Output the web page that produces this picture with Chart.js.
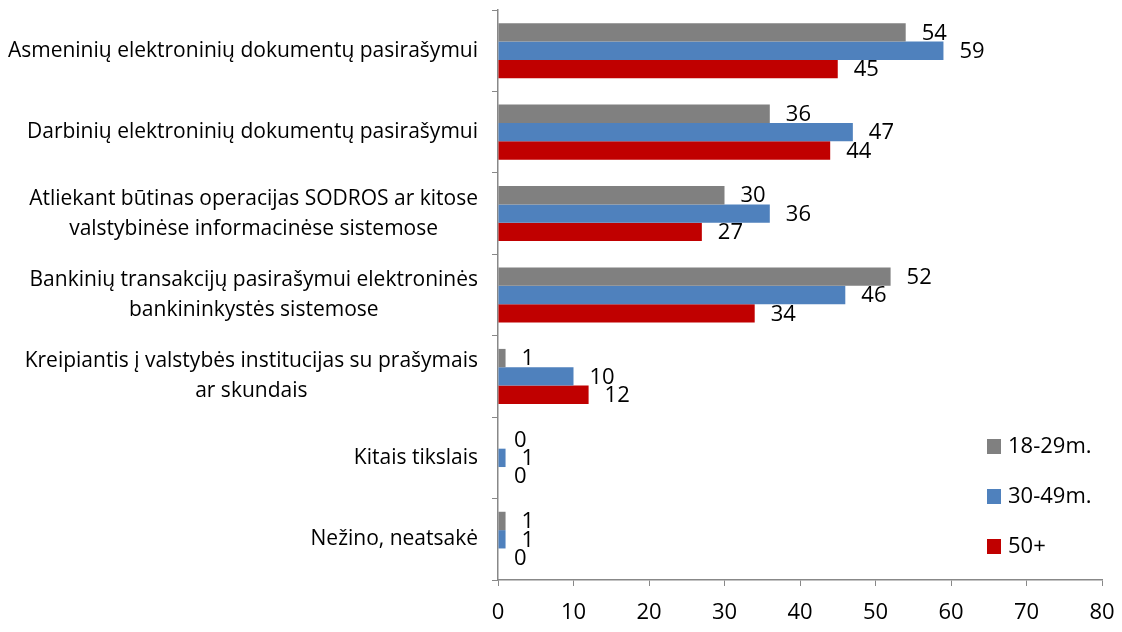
<!DOCTYPE html>
<html><head><meta charset="utf-8">
<script src="https://cdn.jsdelivr.net/npm/chart.js@4"></script>
<style>html,body{margin:0;padding:0;background:#fff}#wrap{width:1122px;height:632px}</style>
</head><body><div id="wrap"><canvas id="c" width="1122" height="632"></canvas></div>
<script>
const categories = [
  ["Asmeninių elektroninių dokumentų pasirašymui"],
  ["Darbinių elektroninių dokumentų pasirašymui"],
  ["Atliekant būtinas operacijas SODROS ar kitose", "valstybinėse informacinėse sistemose"],
  ["Bankinių transakcijų pasirašymui elektroninės", "bankininkystės sistemose"],
  ["Kreipiantis į valstybės institucijas su prašymais", "ar skundais"],
  ["Kitais tikslais"],
  ["Nežino, neatsakė"]
];
const seriesNames = ["18-29m.", "30-49m.", "50+"];
const s1829 = [54, 36, 30, 52, 1, 0, 1];
const s3049 = [59, 47, 36, 46, 10, 1, 1];
const s50 = [45, 44, 27, 34, 12, 0, 0];
const xTicks = [0, 10, 20, 30, 40, 50, 60, 70, 80];
const colors = ["#808080", "#4F81BD", "#C00000"];
const FONT = "'Open Sans', sans-serif";

const labelPlugin = {
  id: 'custom',
  afterDatasetsDraw(chart) {
    const ctx = chart.ctx;
    ctx.save();
    // data labels
    ctx.font = "22px " + FONT;
    ctx.fillStyle = "#000";
    ctx.textBaseline = "middle";
    ctx.textAlign = "left";
    chart.data.datasets.forEach((ds, i) => {
      const meta = chart.getDatasetMeta(i);
      meta.data.forEach((el, j) => {
        ctx.fillText(String(ds.data[j]), el.x + 16, el.y + 1);
      });
    });
    // category labels
    const yScale = chart.scales.y;
    ctx.font = "21px " + FONT;
    ctx.textAlign = "center";
    const rightEdge = chart.chartArea.left - 20;
    categories.forEach((lines, j) => {
      const cy = yScale.getPixelForValue(j);
      let maxW = 0;
      lines.forEach(l => { maxW = Math.max(maxW, ctx.measureText(l).width); });
      const cx = rightEdge - maxW / 2;
      const lh = 30;
      const startY = cy - (lines.length - 1) * lh / 2;
      lines.forEach((l, k) => ctx.fillText(l, cx, startY + k * lh));
    });
    // legend
    ctx.font = "22px " + FONT;
    ctx.textAlign = "left";
    const legY = [446, 496, 546];
    seriesNames.forEach((n, i) => {
      ctx.fillStyle = colors[i];
      ctx.fillRect(987, legY[i] - 7, 14, 15);
      ctx.fillStyle = "#000";
      ctx.fillText(n, 1008, legY[i] + 1);
    });
    ctx.restore();
  }
};

new Chart(document.getElementById('c'), {
  type: 'bar',
  data: {
    labels: categories.map(c => c.join(' ')),
    datasets: [
      { label: seriesNames[0], data: s1829, backgroundColor: colors[0] },
      { label: seriesNames[1], data: s3049, backgroundColor: colors[1] },
      { label: seriesNames[2], data: s50, backgroundColor: colors[2] }
    ]
  },
  options: {
    indexAxis: 'y',
    responsive: false,
    animation: false,
    devicePixelRatio: 1,
    layout: { padding: { top: 10, right: 20, left: 0, bottom: 0 } },
    datasets: { bar: { categoryPercentage: 0.676, barPercentage: 1.0 } },
    plugins: { legend: { display: false }, tooltip: { enabled: false } },
    scales: {
      x: {
        min: 0, max: 80,
        afterBuildTicks: (s) => { s.ticks = xTicks.map(v => ({ value: v })); },
        grid: { drawOnChartArea: false, drawTicks: true, tickLength: 6, color: '#888' },
        border: { color: '#888', width: 1.5 },
        ticks: { font: { size: 22, family: FONT }, color: '#000', padding: 14, maxRotation: 0 },
        afterFit: (s) => { s.height = 52; s.paddingLeft = 0; s.paddingRight = 0; }
      },
      y: {
        grid: { drawOnChartArea: false, drawTicks: true, tickLength: 6, color: '#888', offset: true },
        border: { color: '#888', width: 1.5 },
        ticks: { display: false },
        afterFit: (s) => { s.width = 498; }
      }
    }
  },
  plugins: [labelPlugin]
});
</script>
</body></html>
